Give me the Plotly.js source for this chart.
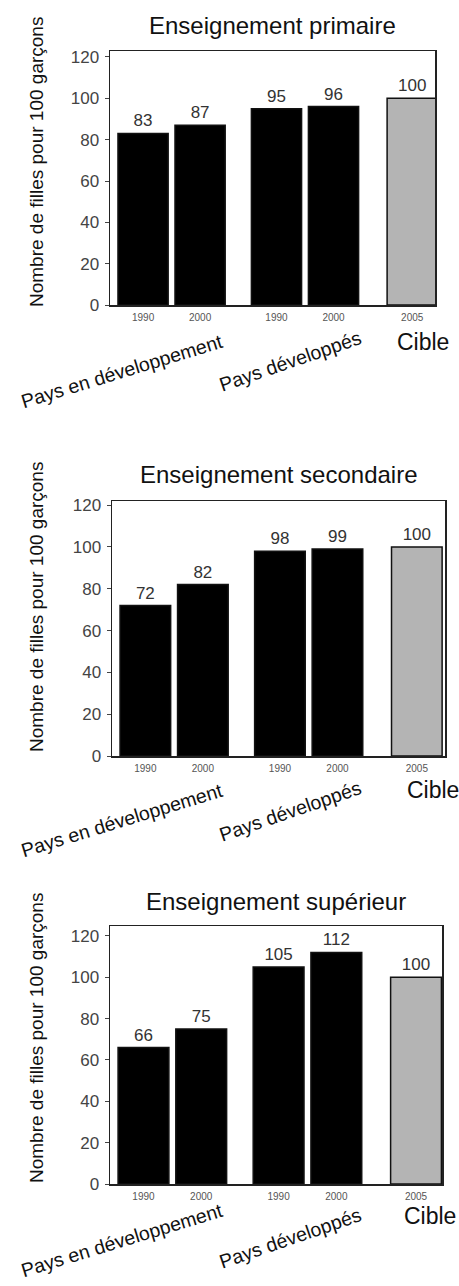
<!DOCTYPE html>
<html>
<head>
<meta charset="utf-8">
<script src="https://cdn.plot.ly/plotly-3.0.1.min.js"></script>
<style>html,body{margin:0;padding:0;background:#fff;}#chart{width:459px;height:1286px;}</style>
</head>
<body>
<div id="chart"></div>
<script>
// ---- data ----
const groups = ['Pays en développement', 'Pays développés', 'Cible'];
const years = ['1990', '2000', '1990', '2000', '2005'];
const primaire = [83, 87, 95, 96, 100];
const secondaire = [72, 82, 98, 99, 100];
const superieur = [66, 75, 105, 112, 100];
const titles = ['Enseignement primaire', 'Enseignement secondaire', 'Enseignement supérieur'];
const yTitle = 'Nombre de filles pour 100 garçons';
const yTicks = [0, 20, 40, 60, 80, 100, 120];

// ---- layout constants (pixels) ----
const W = 459, H = 1286;
const FONT = 'Liberation Sans, Arial, Helvetica, sans-serif';
const slots = [0.58, 1.58, 2.92, 3.92, 5.30];
const panels = [
  {vals: primaire,   left: 110, right: 435, top: 51,  bottom: 305,  xmax: 5.70, ymax: 122.9, titleY: 26,  yT: 162,  g1: 371,  g2: 361,  cib: 342},
  {vals: secondaire, left: 112, right: 445, top: 501, bottom: 756,  xmax: 5.79, ymax: 122.0, titleY: 475, yT: 607,  g1: 820,  g2: 811,  cib: 790},
  {vals: superieur,  left: 110, right: 442, top: 926, bottom: 1184, xmax: 5.75, ymax: 124.8, titleY: 901, yT: 1038, g1: 1240, g2: 1238, cib: 1216}
];

const px = x => x / W;
const py = y => 1 - y / H;

const data = [];
const layout = {
  width: W, height: H,
  margin: {l: 0, r: 0, t: 0, b: 0},
  paper_bgcolor: '#fff', plot_bgcolor: '#fff',
  showlegend: false,
  font: {family: FONT, color: '#222'},
  annotations: []
};

panels.forEach((p, i) => {
  const n = i + 1;
  const xa = 'x' + (n === 1 ? '' : n);
  const ya = 'y' + (n === 1 ? '' : n);
  data.push({
    type: 'bar',
    x: slots,
    y: p.vals,
    xaxis: xa, yaxis: ya,
    width: 0.88,
    marker: {
      color: p.vals.map((v, k) => k === 4 ? '#b4b4b4' : '#000'),
      line: {color: '#111', width: 1.5}
    },
    text: p.vals.map(String),
    textposition: 'outside',
    cliponaxis: false,
    textfont: {family: FONT, size: 17, color: '#333'},
    hoverinfo: 'skip'
  });
  layout['xaxis' + (n === 1 ? '' : n)] = {
    domain: [px(p.left), px(p.right)],
    anchor: ya,
    range: [0, p.xmax],
    tickvals: slots,
    ticktext: years,
    ticks: '',
    tickfont: {family: FONT, size: 10, color: '#555'},
    ticklabelstandoff: 2,
    showgrid: false, zeroline: false,
    showline: true, linecolor: '#222', linewidth: 1.5, mirror: true,
    fixedrange: true
  };
  layout['yaxis' + (n === 1 ? '' : n)] = {
    domain: [py(p.bottom), py(p.top)],
    anchor: xa,
    range: [0, p.ymax],
    tickvals: yTicks,
    ticks: 'outside', ticklen: 4, tickcolor: '#444', tickwidth: 1,
    tickfont: {family: FONT, size: 17, color: '#444'},
    ticklabelstandoff: 2,
    showgrid: false, zeroline: false,
    showline: true, linecolor: '#222', linewidth: 1.5, mirror: true,
    fixedrange: true
  };
  // title
  layout.annotations.push({
    xref: 'paper', yref: 'paper', x: px((p.left + p.right) / 2), y: py(p.titleY),
    text: titles[i], showarrow: false, xanchor: 'center', yanchor: 'middle',
    font: {family: FONT, size: 24, color: '#111'}
  });
  // y-axis title
  layout.annotations.push({
    xref: 'paper', yref: 'paper', x: px(36), y: py(p.yT),
    text: yTitle, showarrow: false, textangle: -90, xanchor: 'center', yanchor: 'middle',
    font: {family: FONT, size: 19, color: '#111'}
  });
  // group labels
  layout.annotations.push({
    xref: 'paper', yref: 'paper', x: px(122), y: py(p.g1),
    text: groups[0], showarrow: false, textangle: -17, xanchor: 'center', yanchor: 'middle',
    font: {family: FONT, size: 19.5, color: '#111'}
  });
  layout.annotations.push({
    xref: 'paper', yref: 'paper', x: px(290), y: py(p.g2),
    text: groups[1], showarrow: false, textangle: -19, xanchor: 'center', yanchor: 'middle',
    font: {family: FONT, size: 19.5, color: '#111'}
  });
  layout.annotations.push({
    xref: 'paper', yref: 'paper', x: px(p.right - 12), y: py(p.cib),
    text: groups[2], showarrow: false, xanchor: 'center', yanchor: 'middle',
    font: {family: FONT, size: 23, color: '#111'}
  });
});

Plotly.newPlot('chart', data, layout, {displayModeBar: false, staticPlot: true});
</script>
</body>
</html>
